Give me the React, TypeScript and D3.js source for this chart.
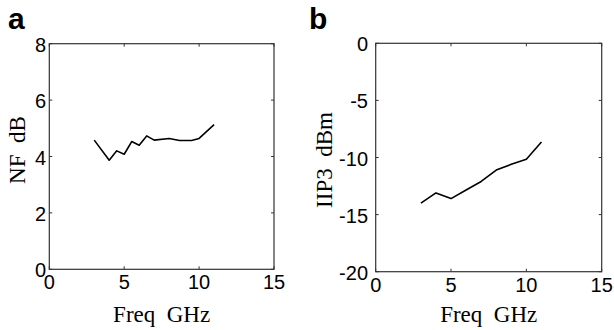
import React from "react";
import * as d3 from "d3";

// Panel a: noise figure
const nfFreq = [3, 4, 4.5, 5, 5.5, 6, 6.5, 7, 8, 8.7, 9.5, 10, 11];
const nfValues = [4.58, 3.87, 4.2, 4.08, 4.53, 4.4, 4.73, 4.58, 4.64, 4.57, 4.57, 4.64, 5.13];
const nfYTicks = [0, 2, 4, 6, 8];

// Panel b: IIP3
const iipFreq = [3, 4, 5, 6, 7, 8, 9, 10, 11];
const iipValues = [-14.0, -13.1, -13.6, -12.85, -12.1, -11.1, -10.6, -10.15, -8.65];
const iipYTicks = [0, -5, -10, -15, -20];

const xTicks = [0, 5, 10, 15];

const SANS = "'Liberation Sans', Arial, Helvetica, sans-serif";
const SERIF = "'Liberation Serif', 'Times New Roman', Times, serif";

type PanelProps = {
  letter: string;
  letterX: number;
  left: number;
  right: number;
  top: number;
  bottom: number;
  yDomain: [number, number];
  yTicks: number[];
  xs: number[];
  ys: number[];
  yLabel: string;
  yLabelX: number;
  yLabelY: number;
  tickLabelRight: number;
};

function Panel(p: PanelProps) {
  const x = d3.scaleLinear().domain([0, 15]).range([p.left, p.right]);
  const y = d3.scaleLinear().domain(p.yDomain).range([p.bottom, p.top]);
  const line = d3
    .line<number>()
    .x((_, i) => x(p.xs[i]))
    .y((d) => y(d));
  const tl = 3;
  return (
    <g>
      <text x={p.letterX} y={29} fontFamily={SANS} fontWeight="bold" fontSize={30} fill="#000">
        {p.letter}
      </text>
      <rect
        x={p.left}
        y={p.top}
        width={p.right - p.left}
        height={p.bottom - p.top}
        fill="none"
        stroke="#333"
        strokeWidth={1.2}
      />
      {xTicks.map((t) => (
        <g key={"x" + t}>
          <line x1={x(t)} x2={x(t)} y1={p.bottom} y2={p.bottom - tl} stroke="#333" />
          <line x1={x(t)} x2={x(t)} y1={p.top} y2={p.top + tl} stroke="#333" />
          <text
            x={x(t)}
            y={p.bottom + 20}
            textAnchor="middle"
            fontFamily={SANS}
            fontSize={20}
            fill="#000"
          >
            {t}
          </text>
        </g>
      ))}
      {p.yTicks.map((t) => (
        <g key={"y" + t}>
          <line x1={p.left} x2={p.left + tl} y1={y(t)} y2={y(t)} stroke="#333" />
          <line x1={p.right} x2={p.right - tl} y1={y(t)} y2={y(t)} stroke="#333" />
          <text
            x={p.tickLabelRight}
            y={y(t) + 8}
            textAnchor="end"
            fontFamily={SANS}
            fontSize={20}
            fill="#000"
          >
            {t}
          </text>
        </g>
      ))}
      <path d={line(p.ys) || ""} fill="none" stroke="#000" strokeWidth={1.6} strokeLinejoin="round" />
      <text
        x={(p.left + p.right) / 2}
        y={322}
        textAnchor="middle"
        fontFamily={SERIF}
        fontSize={23}
        fill="#000"
        style={{ whiteSpace: "pre" }}
      >
        {"Freq  GHz"}
      </text>
      <text
        transform={`translate(${p.yLabelX},${p.yLabelY}) rotate(-90)`}
        textAnchor="middle"
        fontFamily={SERIF}
        fontSize={23}
        fill="#000"
        style={{ whiteSpace: "pre" }}
      >
        {p.yLabel}
      </text>
    </g>
  );
}

export default function App() {
  return (
    <svg
      width={614}
      height={330}
      viewBox="0 0 614 330"
      style={{ position: "absolute", left: 0, top: 0, background: "#fff" }}
    >
      <rect x={0} y={0} width={614} height={330} fill="#fff" />
      <Panel
        letter="a"
        letterX={8}
        left={49.3}
        right={274}
        top={43.7}
        bottom={269.3}
        yDomain={[0, 8]}
        yTicks={nfYTicks}
        xs={nfFreq}
        ys={nfValues}
        yLabel={"NF  dB"}
        yLabelX={25}
        yLabelY={150}
        tickLabelRight={46}
      />
      <Panel
        letter="b"
        letterX={309}
        left={375.7}
        right={601.7}
        top={43.3}
        bottom={271.7}
        yDomain={[-20, 0]}
        yTicks={iipYTicks}
        xs={iipFreq}
        ys={iipValues}
        yLabel={"IIP3  dBm"}
        yLabelX={332}
        yLabelY={160}
        tickLabelRight={368}
      />
    </svg>
  );
}
